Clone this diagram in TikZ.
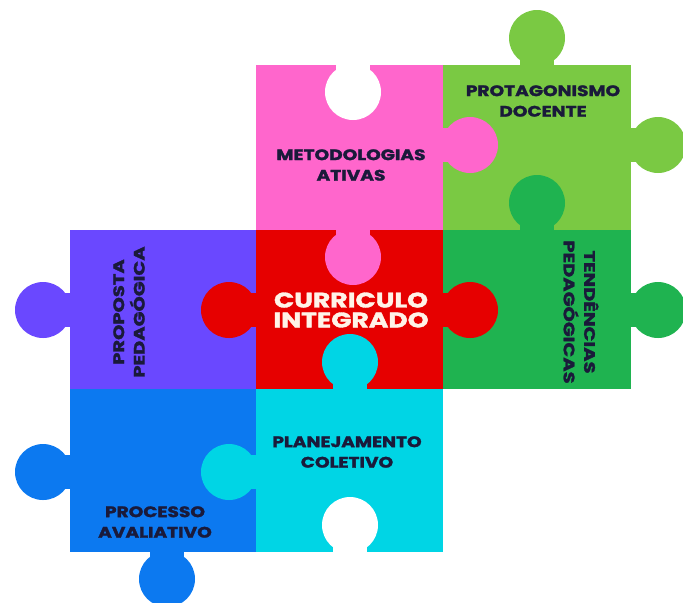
\documentclass[tikz,border=0pt]{standalone}
\usepackage{fontspec}
\setsansfont{Poppins}[BoldFeatures={FakeBold=1.6}]
\usetikzlibrary{positioning}

\definecolor{metopink}{HTML}{FF66CC}
\definecolor{protagreen}{HTML}{7AC943}
\definecolor{tendgreen}{HTML}{1FB350}
\definecolor{proppurple}{HTML}{6A48FF}
\definecolor{currred}{HTML}{E60000}
\definecolor{procblue}{HTML}{0C79F0}
\definecolor{plancyan}{HTML}{00D5E5}
\definecolor{inkblue}{HTML}{1A1A3A}
\definecolor{currtext}{HTML}{FFF3E8}

% one knob of a piece: colour, point on the edge, direction out of the piece
\newcommand{\knob}[3]{%
  \begin{scope}[shift={#2},rotate=#3]
    \fill[#1] (-1,-17) rectangle (27,17);
    \fill[#1] (27,0) circle (28);
  \end{scope}}

\tikzset{
  piecetext/.style={font=\sffamily\bfseries\fontsize{13}{17.5}\selectfont,
    text=inkblue, align=center, inner sep=0pt},
  flattext/.style={piecetext, xscale=1.22},
  bigtext/.style={font=\sffamily\bfseries\fontsize{18}{17}\selectfont,
    text=currtext, align=center, inner sep=0pt, xscale=1.26}
}

\begin{document}
\begin{tikzpicture}[x=0.03cm,y=-0.03cm]
  \useasboundingbox (0,0) rectangle (683,602);

  % the seven pieces
  \fill[metopink]   (256,65)  rectangle (443,230);
  \fill[protagreen] (443,65)  rectangle (631,230);
  \fill[proppurple] (70,230)  rectangle (256,389);
  \fill[currred]    (256,230) rectangle (443,389);
  \fill[tendgreen]  (443,230) rectangle (631,389);
  \fill[procblue]   (70,389)  rectangle (256,552);
  \fill[plancyan]   (256,389) rectangle (443,552);

  % knobs and holes
  \knob{protagreen}{(537,65)}{90}
  \knob{white}{(353,65)}{270}
  \knob{metopink}{(443,145)}{0}
  \knob{protagreen}{(631,145)}{0}
  \knob{tendgreen}{(537,230)}{90}
  \knob{metopink}{(353,230)}{270}
  \knob{proppurple}{(70,310)}{180}
  \knob{currred}{(256,310)}{180}
  \knob{currred}{(443,310)}{0}
  \knob{tendgreen}{(631,310)}{0}
  \knob{plancyan}{(350,389)}{90}
  \knob{procblue}{(70,472)}{180}
  \knob{plancyan}{(256,472)}{180}
  \knob{white}{(350,552)}{90}
  \knob{procblue}{(167,552)}{270}

  % texts
  \node[flattext] (prota) at (543,101) {PROTAGONISMO\\DOCENTE};
  \node[flattext] (meto) at (351,165) {METODOLOGIAS\\ATIVAS};
  \node[bigtext] (curr) at (351,310) {CURRICULO\\INTEGRADO};
  \node[piecetext,rotate=90,xscale=1.28] (prop) at (129,312) {PROPOSTA\\PEDAGÓGICA};
  \node[piecetext,rotate=-90,xscale=1.28] (tend) at (581,312) {TENDÊNCIAS\\PEDAGÓGICAS};
  \node[flattext] (plan) at (347,452) {PLANEJAMENTO\\COLETIVO};
  \node[flattext] (proc) at (155,522) {PROCESSO\\AVALIATIVO};
\end{tikzpicture}
\end{document}
